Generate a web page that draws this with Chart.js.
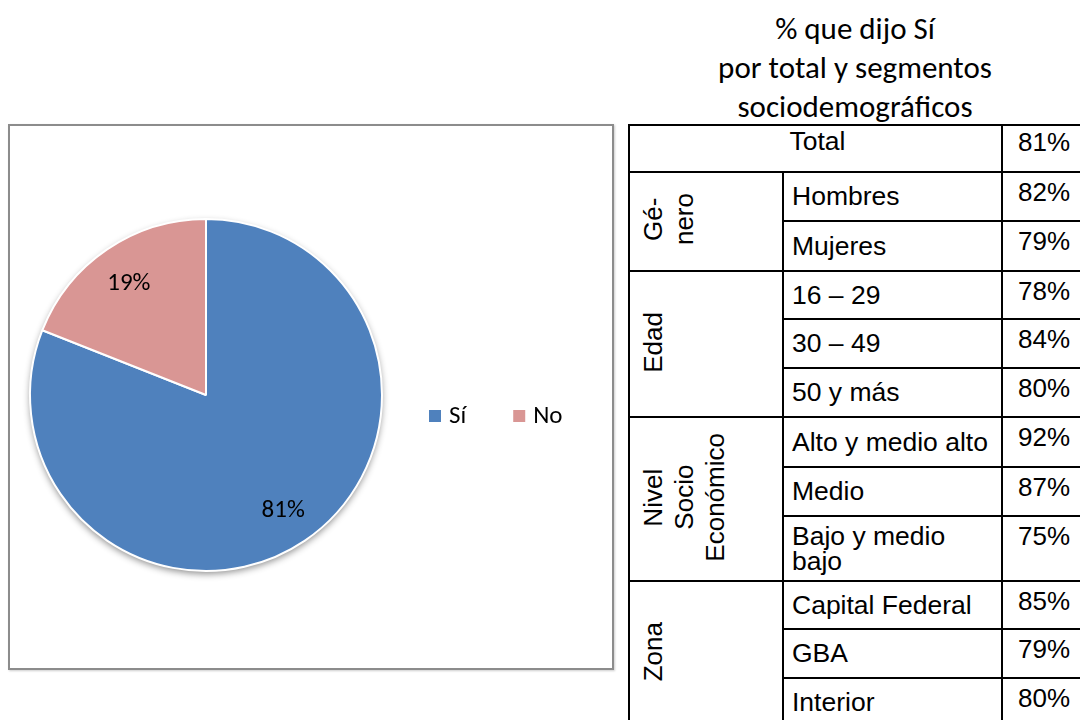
<!DOCTYPE html>
<html><head><meta charset="utf-8">
<script src="https://cdn.jsdelivr.net/npm/chart.js@4/dist/chart.umd.min.js"></script>
<style>
html,body{margin:0;padding:0;background:#fff;width:1080px;height:720px;overflow:hidden;position:relative;}
#box{position:absolute;left:8px;top:124px;width:602px;height:542px;border:2px solid #8c8c8c;box-shadow:1px 1px 2px rgba(0,0,0,0.2);}
#box canvas{position:absolute;left:0;top:0;}
#title{position:absolute;left:630px;top:9px;width:450px;text-align:center;font-family:Carlito,Lato,sans-serif;font-size:31px;line-height:39px;color:#000;}
#tbl{position:absolute;left:628px;top:124px;width:473px;border-collapse:collapse;table-layout:fixed;font-family:"Liberation Sans",Arial,sans-serif;font-size:26.5px;color:#000;}
#tbl td{border:2px solid #000;padding:0 4px 0 8px;vertical-align:middle;line-height:25px;}
#tbl td.v{vertical-align:top;font-size:26px;padding:7px 0 0 15px;}
#tbl td.tv{padding-top:4px;}
#tbl td.t{vertical-align:top;text-align:center;padding-top:3px;}
#tbl td.g{padding:0 0 0 8px;font-size:26px;}
.rot{writing-mode:vertical-rl;transform:rotate(180deg);text-align:center;line-height:31px;display:inline-block;}
</style></head>
<body>
<div id="title"></div>
<div id="box"><canvas id="c" width="602" height="542"></canvas></div>
<table id="tbl"><colgroup><col style="width:154px"><col style="width:219px"><col style="width:100px"></colgroup><tbody id="tb"></tbody></table>
<script>
const categories = ['Sí', 'No'];
const shares = [81, 19];
const colors = ['#4F81BD', '#D99694'];
const titleLines = ['% que dijo Sí', 'por total y segmentos', 'sociodemográficos'];
const totalLabel = 'Total';
const totalValue = 81;
const groupNames = ['Gé-\nnero', 'Edad', 'Nivel\nSocio\nEconómico', 'Zona'];
const groupLabels = [['Hombres', 'Mujeres'], ['16 – 29', '30 – 49', '50 y más'], ['Alto y medio alto', 'Medio', 'Bajo y medio bajo'], ['Capital Federal', 'GBA', 'Interior']];
const groupValues = [[82, 79], [78, 84, 80], [92, 87, 75], [85, 79, 80]];

// layout
const rowHeights = [47, 49, 50, 48, 49, 49, 50, 49, 65, 48, 49, 49];

document.getElementById('title').innerHTML = titleLines.join('<br>');

const tb = document.getElementById('tb');
let r = 0;
function addRow(cells) {
  const tr = document.createElement('tr');
  tr.style.height = rowHeights[r++] + 'px';
  cells.forEach(c => tr.appendChild(c));
  tb.appendChild(tr);
}
function td(text, cls, attrs) {
  const e = document.createElement('td');
  if (cls) e.className = cls;
  if (attrs) Object.entries(attrs).forEach(([k, v]) => e.setAttribute(k, v));
  e.textContent = text;
  return e;
}
addRow([td(totalLabel, 't', {colspan: 2}), td(totalValue + '%', 'v tv')]);
groupNames.forEach((g, gi) => {
  groupLabels[gi].forEach((lab, li) => {
    const cells = [];
    if (li === 0) {
      const gc = td('', 'g', {rowspan: groupLabels[gi].length});
      const d = document.createElement('div');
      d.className = 'rot';
      d.innerHTML = g.split('\n').join('<br>');
      gc.appendChild(d);
      cells.push(gc);
    }
    cells.push(td(lab));
    cells.push(td(groupValues[gi][li] + '%', 'v'));
    addRow(cells);
  });
});

const pieShadow = {
  id: 'pieShadow',
  beforeDatasetsDraw(chart) {
    const arc = chart.getDatasetMeta(0).data[0];
    if (!arc) return;
    const p = arc.getProps(['x', 'y', 'outerRadius'], true);
    const ctx = chart.ctx;
    ctx.save();
    ctx.shadowColor = 'rgba(0,0,0,0.45)';
    ctx.shadowBlur = 7;
    ctx.shadowOffsetY = 3;
    ctx.shadowOffsetX = 0;
    ctx.fillStyle = '#fff';
    ctx.beginPath();
    ctx.arc(p.x, p.y, p.outerRadius, 0, Math.PI * 2);
    ctx.fill();
    ctx.restore();
  }
};
const sliceLabels = {
  id: 'sliceLabels',
  afterDatasetsDraw(chart) {
    const ctx = chart.ctx;
    const meta = chart.getDatasetMeta(0);
    ctx.save();
    ctx.font = '25px Carlito, Lato, sans-serif';
    ctx.fillStyle = '#000';
    ctx.textAlign = 'center';
    ctx.textBaseline = 'middle';
    meta.data.forEach((arc, i) => {
      const p = arc.getProps(['x', 'y', 'startAngle', 'endAngle', 'outerRadius'], true);
      const mid = (p.startAngle + p.endAngle) / 2;
      const rr = p.outerRadius * 0.78;
      ctx.fillText(chart.data.datasets[0].data[i] + '%', p.x + Math.cos(mid) * rr, p.y + Math.sin(mid) * rr + 2);
    });
    ctx.restore();
  }
};
const inlineLegend = {
  id: 'inlineLegend',
  afterDraw(chart) {
    const ctx = chart.ctx;
    ctx.save();
    ctx.font = '25px Carlito, Lato, sans-serif';
    ctx.textBaseline = 'alphabetic';
    let x = 419;
    const y = 297;
    chart.data.labels.forEach((lab, i) => {
      ctx.fillStyle = chart.data.datasets[0].backgroundColor[i];
      ctx.fillRect(x, y - 13, 12, 12);
      ctx.fillStyle = '#000';
      ctx.fillText(lab, x + 20, y);
      x += 20 + ctx.measureText(lab).width + 47;
    });
    ctx.restore();
  }
};

new Chart(document.getElementById('c'), {
  type: 'pie',
  data: {
    labels: categories,
    datasets: [{data: shares, backgroundColor: colors, borderColor: '#ffffff', borderWidth: 2}]
  },
  options: {
    responsive: false,
    animation: false,
    events: [],
    layout: {padding: {left: 19, top: 92, right: 229, bottom: 96}},
    plugins: {legend: {display: false}, tooltip: {enabled: false}}
  },
  plugins: [pieShadow, sliceLabels, inlineLegend]
});
</script>
</body></html>
